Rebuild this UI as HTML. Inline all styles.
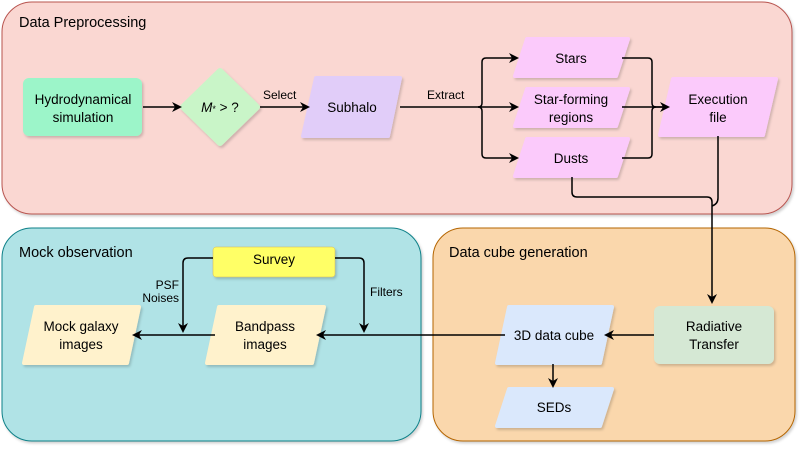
<!DOCTYPE html>
<html><head><meta charset="utf-8"><style>
body{margin:0;background:#fff}
svg text{font-family:"Liberation Sans",sans-serif;fill:#000}
</style></head><body>
<svg width="804" height="453" viewBox="0 0 804 453" xmlns="http://www.w3.org/2000/svg">
<defs>
<filter id="s" x="-10%" y="-10%" width="130%" height="130%"><feDropShadow dx="1.5" dy="2" stdDeviation="1.2" flood-color="#000" flood-opacity="0.18"/></filter>
<marker id="a" markerWidth="10" markerHeight="10" refX="8" refY="5" orient="auto" markerUnits="userSpaceOnUse"><path d="M0,0 L10,5 L0,10 L3,5z" fill="#000"/></marker>
</defs>
<g filter="url(#s)">
<rect x="2" y="2" width="790" height="212" rx="30" fill="#fad7d2" stroke="#b85450" stroke-width="1"/>
<rect x="2" y="228" width="419" height="213" rx="30" fill="#b0e3e6" stroke="#0e8088" stroke-width="1"/>
<rect x="433" y="228" width="362" height="213" rx="30" fill="#fad7ac" stroke="#b46504" stroke-width="1"/>
</g>
<text x="19" y="27" font-size="14.5">Data Preprocessing</text>
<text x="19" y="257" font-size="14.5">Mock observation</text>
<text x="449" y="257" font-size="14.5">Data cube generation</text>

<g filter="url(#s)">
<rect x="23" y="78" width="119" height="58" rx="6" fill="#9cf5c9"/>
<polygon points="220,71 257,107 220,143 183,107" fill="#c9f5c8" stroke="#c9f5c8" stroke-width="6" stroke-linejoin="round"/>
<path d="M316,78 H400 L388,136 H303 Z" fill="#e1cdf9" stroke="#e1cdf9" stroke-width="4" stroke-linejoin="round"/>
<path d="M527,39 H628 L616,76 H515 Z" fill="#fbcafb" stroke="#fbcafb" stroke-width="4" stroke-linejoin="round"/>
<path d="M527,89 H628 L616,126 H515 Z" fill="#fbcafb" stroke="#fbcafb" stroke-width="4" stroke-linejoin="round"/>
<path d="M527,139 H628 L616,176 H515 Z" fill="#fbcafb" stroke="#fbcafb" stroke-width="4" stroke-linejoin="round"/>
<path d="M673,79 H776 L763,135 H660 Z" fill="#fbcafb" stroke="#fbcafb" stroke-width="4" stroke-linejoin="round"/>
<rect x="654" y="306" width="120" height="58" rx="6" fill="#d5e8d4"/>
<path d="M509,307 H612 L600,363 H497 Z" fill="#dae8fc" stroke="#dae8fc" stroke-width="4" stroke-linejoin="round"/>
<path d="M509,389 H612 L600,426 H497 Z" fill="#dae8fc" stroke="#dae8fc" stroke-width="4" stroke-linejoin="round"/>
<path d="M219,307 H324 L312,363 H207 Z" fill="#fff2cc" stroke="#fff2cc" stroke-width="4" stroke-linejoin="round"/>
<path d="M36,307 H139 L127,363 H24 Z" fill="#fff2cc" stroke="#fff2cc" stroke-width="4" stroke-linejoin="round"/>
<rect x="213" y="247" width="122" height="30" rx="3" fill="#ffff66" stroke="#d6b656" stroke-width="0.5"/>
</g>

<g font-size="13.5" text-anchor="middle">
<text x="83" y="104">Hydrodynamical</text><text x="83" y="122">simulation</text>
<text x="220" y="112"><tspan font-style="italic">M</tspan><tspan font-size="9">*</tspan> &gt; ?</text>
<text x="352" y="112">Subhalo</text>
<text x="571" y="63">Stars</text>
<text x="571" y="104">Star-forming</text><text x="571" y="122">regions</text>
<text x="571" y="163">Dusts</text>
<text x="718" y="104">Execution</text><text x="718" y="122">file</text>
<text x="714" y="331">Radiative</text><text x="714" y="349">Transfer</text>
<text x="554" y="340">3D data cube</text>
<text x="554" y="412">SEDs</text>
<text x="265" y="331">Bandpass</text><text x="265" y="349">images</text>
<text x="81" y="331">Mock galaxy</text><text x="81" y="349">images</text>
<text x="274" y="264">Survey</text>
</g>
<g font-size="12">
<text x="263" y="99">Select</text>
<text x="427" y="99">Extract</text>
<text x="179" y="289" text-anchor="end">PSF</text>
<text x="179" y="302" text-anchor="end">Noises</text>
<text x="370" y="296">Filters</text>
</g>

<g fill="none" stroke="#000" stroke-width="1.5">
<path d="M143,107 H180" marker-end="url(#a)"/>
<path d="M260,107 H308" marker-end="url(#a)"/>
<path d="M400,107 H478 Q482,107 482,103 V62 Q482,58 486,58 H517" marker-end="url(#a)"/>
<path d="M478,107 H517" marker-end="url(#a)"/>
<path d="M478,107 Q482,107 482,111 V154 Q482,158 486,158 H517" marker-end="url(#a)"/>
<path d="M622,58 H648 Q652,58 652,62 V103 Q652,107 656,107 H668" marker-end="url(#a)"/>
<path d="M622,107 H666"/>
<path d="M622,158 H648 Q652,158 652,154 V111 Q652,107 656,107"/>
<path d="M572,177 V192 Q572,197 577,197 H707 Q712,197 712,202 V302" marker-end="url(#a)"/>
<path d="M718,136 V198 Q718,204 712,206"/>
<path d="M654,335 H606" marker-end="url(#a)"/>
<path d="M553,364 V386" marker-end="url(#a)"/>
<path d="M505,335 H318" marker-end="url(#a)"/>
<path d="M215,335 H134" marker-end="url(#a)"/>
<path d="M213,258 H188 Q183,258 183,263 V331" marker-end="url(#a)"/>
<path d="M335,258 H359 Q364,258 364,263 V331" marker-end="url(#a)"/>
</g>
</svg>
</body></html>
